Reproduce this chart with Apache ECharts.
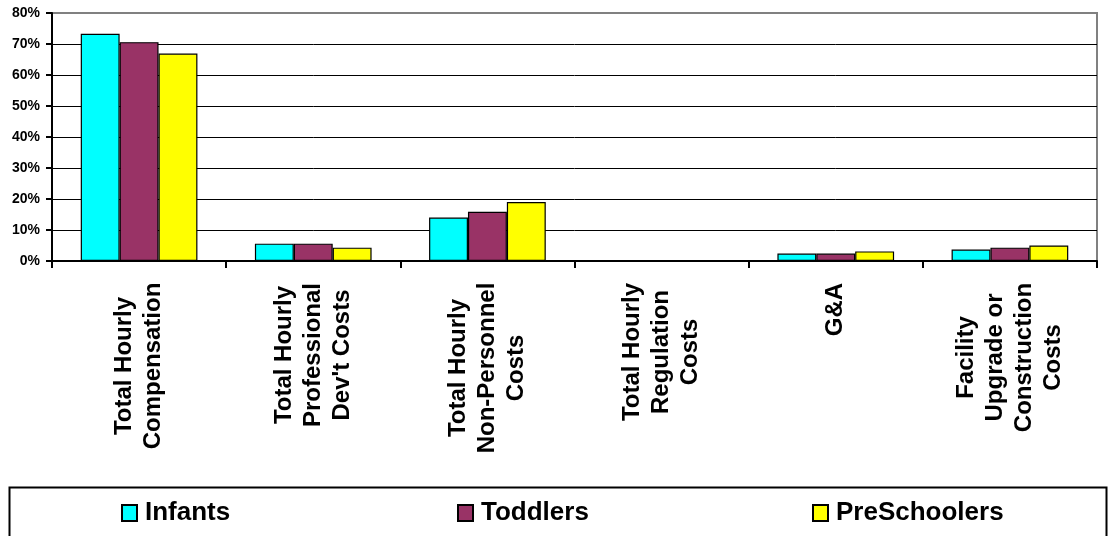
<!DOCTYPE html>
<html><head><meta charset="utf-8">
<script src="https://cdn.jsdelivr.net/npm/echarts@6/dist/echarts.min.js"></script>
<style>html,body{margin:0;padding:0;background:#fff}#c{width:1110px;height:536px}</style>
</head><body><div id="c"></div>
<script>
const categories = ['Total Hourly\nCompensation', 'Total Hourly\nProfessional\nDev\'t Costs', 'Total Hourly\nNon-Personnel\nCosts', 'Total Hourly\nRegulation\nCosts', 'G&A', 'Facility\nUpgrade or\nConstruction\nCosts'];
const seriesNames = ['Infants', 'Toddlers', 'PreSchoolers'];
const infants = [73.3, 5.6, 14.0, 0, 2.4, 3.7];
const toddlers = [70.6, 5.6, 15.9, 0, 2.4, 4.3];
const preschoolers = [66.9, 4.3, 19.0, 0, 3.1, 5.0];
const yMin = 0, yMax = 80, yStep = 10;
const colors = ['#00FFFF', '#993366', '#FFFF00'];

const FAMILY = '"Liberation Sans", Arial, sans-serif';
const ctx = document.createElement('canvas').getContext('2d');
ctx.font = 'bold 24px ' + FAMILY;
const rich = {};
categories.forEach((c, i) => {
  const w = Math.max(...c.split('\n').map(l => ctx.measureText(l).width));
  rich['c' + i] = { width: Math.ceil(w) + 1, align: 'center', fontSize: 24, fontWeight: 'bold', fontFamily: FAMILY, lineHeight: 29, color: '#000' };
});

const legendLefts = [121, 457, 812];
const allData = [infants, toddlers, preschoolers];
const nSplit = (yMax - yMin) / yStep + 1;
const splitColors = Array.from({length: nSplit}, (_, i) => i === nSplit - 1 ? '#808080' : '#000');

const chart = echarts.init(document.getElementById('c'), null, {renderer: 'canvas'});
chart.setOption({
  animation: false,
  backgroundColor: '#fff',
  grid: { left: 52, top: 13, right: 13, bottom: 275, show: true, borderColor: '#808080', borderWidth: 2, backgroundColor: 'transparent' },
  legend: seriesNames.map((n, i) => ({
    data: [n], left: legendLefts[i], top: 500, padding: 0, itemWidth: 15, itemHeight: 16,
    icon: 'rect', selectedMode: false,
    itemStyle: { borderColor: '#000', borderWidth: 2 },
    textStyle: { fontSize: 26, fontWeight: 'bold', fontFamily: FAMILY, color: '#000', padding: [0, 0, 0, 3] }
  })),
  graphic: [{ type: 'rect', left: 7, top: 485, shape: { width: 1097, height: 70 }, style: { fill: 'none', stroke: '#000', lineWidth: 2 } }],
  xAxis: {
    type: 'category', data: categories,
    axisLine: { lineStyle: { color: '#000', width: 2 } },
    axisTick: { show: true, length: 7, lineStyle: { color: '#000', width: 2 } },
    axisLabel: {
      interval: 0, rotate: 90, margin: 21,
      formatter: (v, idx) => v.split('\n').map(l => '{c' + idx + '|' + l + '}').join('\n'),
      rich: rich
    }
  },
  yAxis: {
    type: 'value', min: yMin, max: yMax, interval: yStep,
    axisLine: { show: true, lineStyle: { color: '#000', width: 2 } },
    axisTick: { show: true, length: 6, lineStyle: { color: '#000', width: 2 } },
    axisLabel: { formatter: '{value}%', fontSize: 14, fontWeight: 'bold', fontFamily: FAMILY, color: '#000', margin: 12 },
    splitLine: { show: true, lineStyle: { color: splitColors, width: 1 } }
  },
  series: seriesNames.map((n, i) => ({
    name: n, type: 'bar', data: allData[i],
    barGap: '0%', barCategoryGap: '33%',
    itemStyle: { color: colors[i], borderColor: '#000', borderWidth: 1.2 }
  }))
});
</script></body></html>
